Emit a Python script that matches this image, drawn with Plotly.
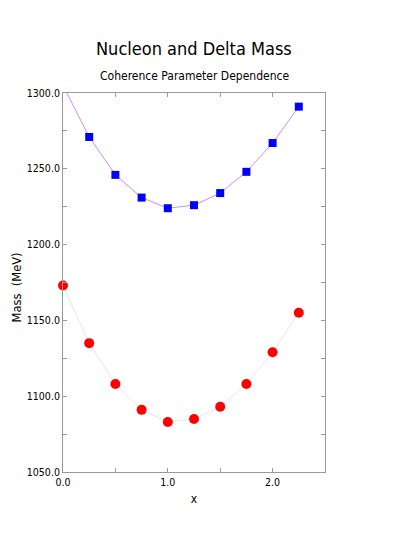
import plotly.graph_objects as go

# coherence parameter values
x_vals = [0.0, 0.25, 0.5, 0.75, 1.0, 1.25, 1.5, 1.75, 2.0, 2.25]

# masses in MeV
delta_mass = [1305, 1271, 1246, 1231, 1224, 1226, 1234, 1248, 1267, 1291]
nucleon_mass = [1173, 1135, 1108, 1091, 1083, 1085, 1093, 1108, 1129, 1155]

NARROW = "DejaVu Sans Condensed, Liberation Sans Narrow, Arial Narrow, sans-serif"
AXIS_COLOR = "#999999"

fig = go.Figure()

# delta curve runs off the top of the frame at x=0, so keep it clipped
fig.add_trace(go.Scatter(
    x=x_vals, y=delta_mass, mode="lines+markers", name="Delta",
    line=dict(color="#cc8cf0", width=1),
    marker=dict(symbol="square", size=8, color="#0000ff"),
    cliponaxis=True, showlegend=False,
))

fig.add_trace(go.Scatter(
    x=x_vals, y=nucleon_mass, mode="lines+markers", name="Nucleon",
    line=dict(color="#e6e6e6", width=1),
    marker=dict(symbol="circle", size=10, color="#ff0000"),
    cliponaxis=False, showlegend=False,
))

axis_common = dict(
    showline=True, linecolor=AXIS_COLOR, linewidth=1, mirror="ticks",
    ticks="inside", ticklen=4, tickcolor=AXIS_COLOR,
    showgrid=False, zeroline=False, automargin=False,
    tickfont=dict(family=NARROW, size=10.5, color="#000000"),
)

# page body adds ~8px offset, margins are compensated for it
fig.update_layout(
    width=415, height=554,
    margin=dict(l=55, r=98, t=85, b=90),
    paper_bgcolor="white", plot_bgcolor="white",
    xaxis=dict(
        range=[0, 2.5], tick0=0, dtick=1, tickformat=".1f",
        minor=dict(dtick=0.5, ticks="inside", ticklen=4, tickcolor=AXIS_COLOR),
        title=dict(text="x", font=dict(family=NARROW, size=12, color="#000000"), standoff=8),
        **axis_common,
    ),
    yaxis=dict(
        range=[1050, 1300], tick0=1050, dtick=50, tickformat=".1f",
        minor=dict(dtick=25, ticks="inside", ticklen=4, tickcolor=AXIS_COLOR),
        **axis_common,
    ),
    annotations=[
        dict(text="Nucleon and Delta Mass", xref="paper", yref="paper",
             x=0.5, y=1, yanchor="middle", yshift=45, showarrow=False,
             font=dict(family=NARROW, size=18, color="#000000")),
        dict(text="Coherence Parameter Dependence", xref="paper", yref="paper",
             x=0.5, y=1, yanchor="middle", yshift=17, showarrow=False,
             font=dict(family=NARROW, size=12, color="#000000")),
        dict(text="Mass  (MeV)", xref="paper", yref="paper",
             x=0, y=0.5, xanchor="center", yanchor="middle", xshift=-47, yshift=-5,
             textangle=-90, showarrow=False,
             font=dict(family="DejaVu Sans, sans-serif", size=11.5, color="#000000")),
    ],
)

fig.write_html("out.html")
